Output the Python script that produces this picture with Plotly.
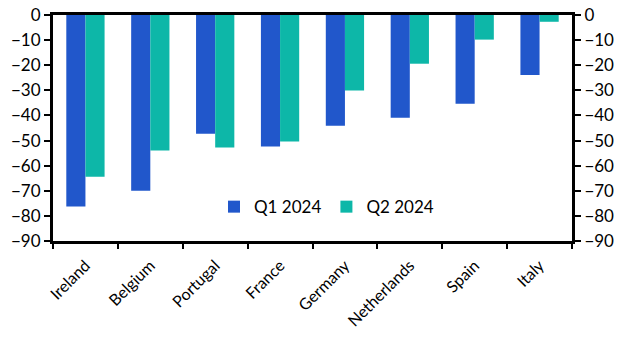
import plotly.graph_objects as go

countries = ["Ireland", "Belgium", "Portugal", "France", "Germany", "Netherlands", "Spain", "Italy"]
q1_2024 = [-76.3, -70.0, -47.3, -52.4, -44.1, -40.9, -35.3, -23.9]
q2_2024 = [-64.4, -54.0, -52.8, -50.4, -30.1, -19.4, -9.8, -2.7]
y_ticks = [0, -10, -20, -30, -40, -50, -60, -70, -80, -90]

FONT = "Lato, Noto Sans, sans-serif"
fig = go.Figure()
fig.add_trace(go.Bar(x=countries, y=q1_2024, name="Q1 2024", marker_color="#2157CB", marker_line_width=0))
fig.add_trace(go.Bar(x=countries, y=q2_2024, name="Q2 2024", marker_color="#0DB7A8", marker_line_width=0))
fig.add_trace(go.Scatter(x=countries, y=[None]*len(countries), yaxis="y2", showlegend=False, hoverinfo="skip"))

yax = dict(range=[-90, 0], tickvals=y_ticks, showgrid=False, zeroline=False, automargin=False,
           showline=True, linecolor="black", linewidth=3, ticks="outside",
           ticklen=6, tickwidth=2, tickcolor="black",
           tickfont=dict(size=17, color="black", family=FONT))
fig.update_layout(
    width=635, height=362,
    margin=dict(l=53, r=63, t=15, b=121),
    plot_bgcolor="white", paper_bgcolor="white",
    barmode="group", bargap=0.41, bargroupgap=0,
    xaxis=dict(showgrid=False, showline=True, mirror=True, linecolor="black", linewidth=3,
               automargin=False,
               ticks="outside", tickson="boundaries", ticklen=5, tickwidth=2, tickcolor="black",
               tickangle=-45, ticklabelstandoff=6,
               tickfont=dict(size=16, color="black", family=FONT)),
    yaxis=yax,
    yaxis2=dict(yax, overlaying="y", side="right"),
    legend=dict(orientation="h", x=0.527, y=0.15, xanchor="center", yanchor="middle",
                font=dict(size=17, color="black", family=FONT), bgcolor="rgba(0,0,0,0)",
                itemwidth=30, tracegroupgap=0),
    showlegend=True,
)
fig.write_html("out.html", config={"displayModeBar": False},
               post_script="document.body.style.margin='0';")
